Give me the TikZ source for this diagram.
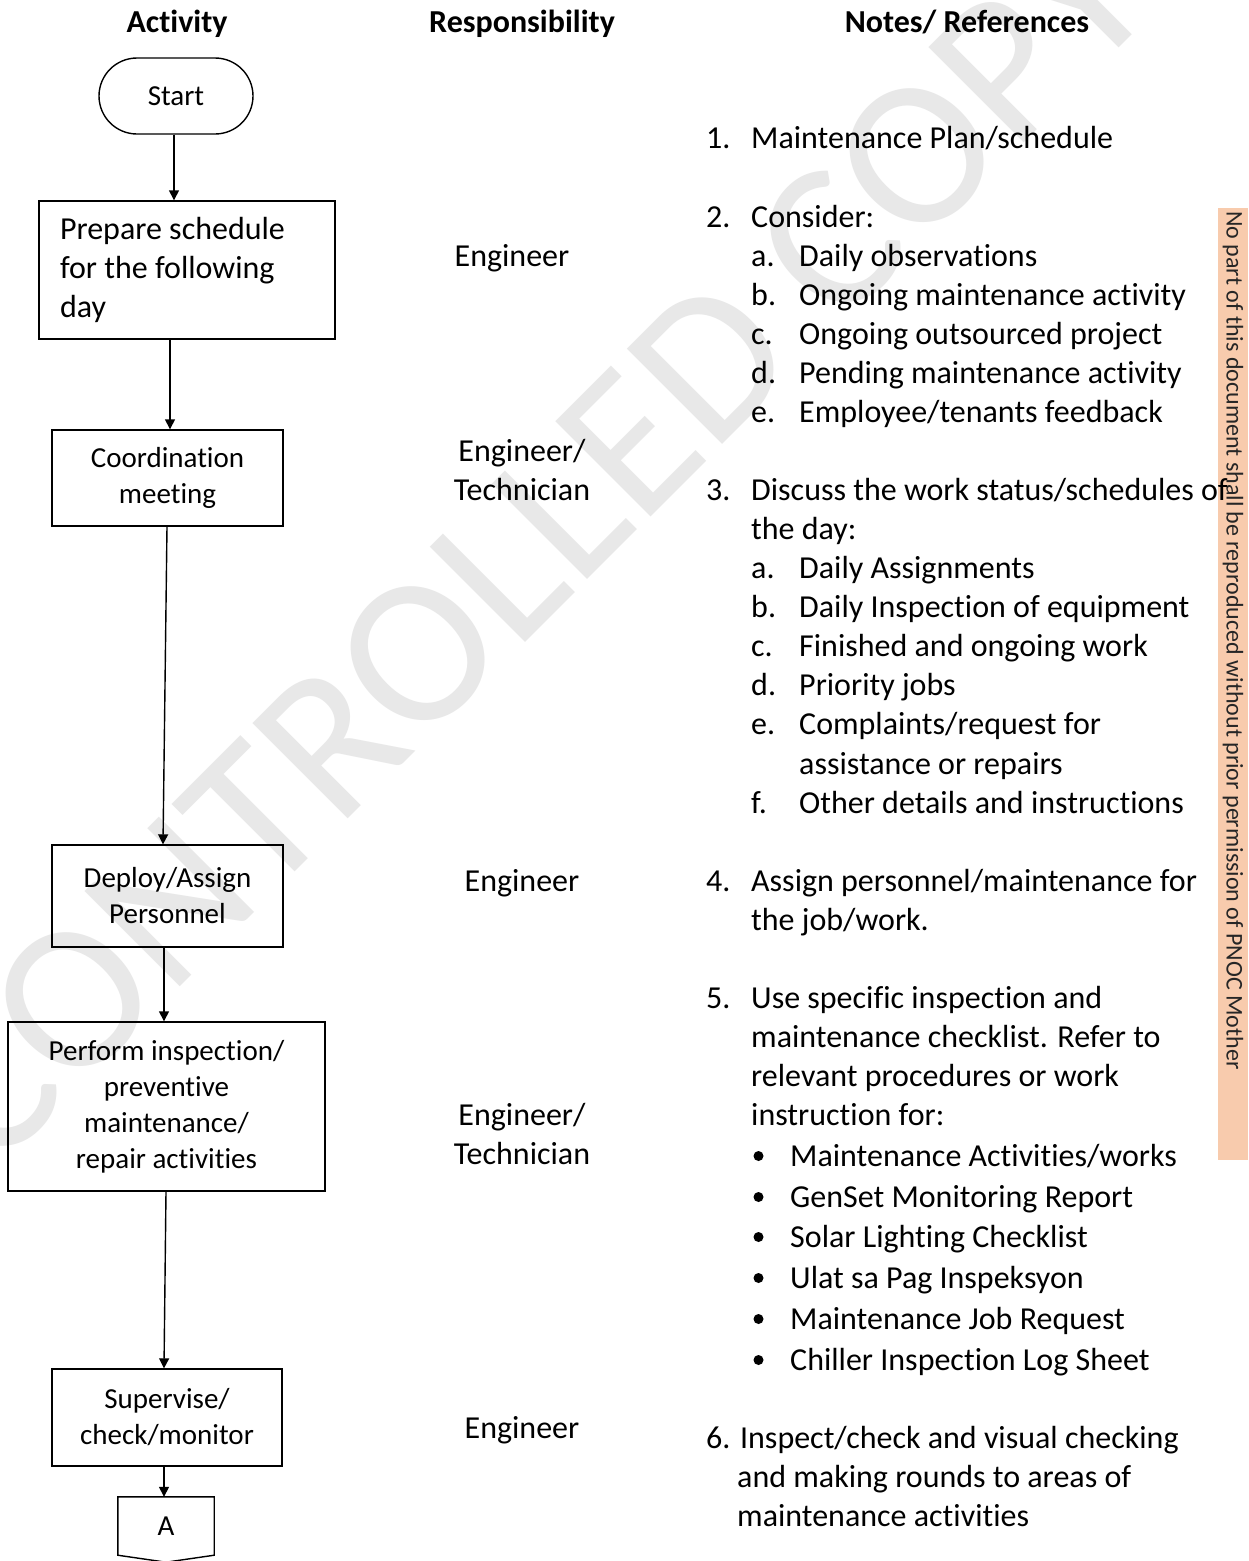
\documentclass[tikz,border=0pt]{standalone}
\usepackage{fontspec}
\setmainfont{Carlito}[Ligatures={TeX,NoCommon}]
\usetikzlibrary{arrows.meta,calc}
\definecolor{stripfill}{HTML}{F8CBAD}
\begin{document}
\begin{tikzpicture}[x=1pt,y=-1pt,
  box/.style={draw=black, line width=1.4pt, inner sep=0pt, align=center,
    font=\fontsize{29}{36}\selectfont},
  arr/.style={line width=1.4pt, -{Triangle[length=10pt,width=10pt]}},
  head/.style={font=\fontsize{32}{39}\selectfont\bfseries, anchor=base, inner sep=0pt},
  resp/.style={font=\fontsize{32}{39}\selectfont, anchor=base, inner sep=0pt},
  note/.style={font=\fontsize{32}{39}\selectfont, anchor=base west, inner sep=0pt},
  dot/.style={circle, fill=black, inner sep=0pt, minimum size=10pt},
]
\fill[white] (0,0) rectangle (1248,1561);
\useasboundingbox (0,0) rectangle (1248,1561);

% watermark
\node[text=black!9, rotate=45, inner sep=0pt,
  font=\fontsize{210}{250}\selectfont] (wm) at (530,542) {CONTROLLED COPY};

% side strip
\fill[stripfill] (1218,208) rectangle (1248,1160);
\node[rotate=-90, anchor=west, inner sep=0pt, text=black!85,
  font=\fontsize{24}{28}\selectfont] (side) at (1233,211)
  {No part of this document shall be reproduced without prior permission of PNOC Mother};

% column headings
\node[head] (hact) at (177,32) {Activity};
\node[head] (hresp) at (522,32) {Responsibility};
\node[head] (hnote) at (967,32) {Notes/ References};

% flow chart
\node[box, rounded corners=38pt, minimum width=154pt, minimum height=76pt] (start) at (176,96) {Start};
\node[box, minimum width=296pt, minimum height=138pt, align=flush left, text width=254pt,
  font=\fontsize{32}{39}\selectfont] (b1) at (187,270) {Prepare schedule\\for the following\\day};
\node[box, minimum width=231pt, minimum height=96pt] (b2) at (167.5,478) {Coordination\\meeting};
\node[box, minimum width=231pt, minimum height=102pt] (b3) at (167.5,896) {Deploy/Assign\\Personnel};
\node[box, minimum width=317pt, minimum height=169pt] (b4) at (166.5,1106.5)
  {Perform inspection/\\preventive\\maintenance/\\repair activities};
\node[box, minimum width=230pt, minimum height=97pt] (b5) at (167,1417.5) {Supervise/\\check/monitor};
\node[inner sep=0pt, minimum width=96pt, minimum height=58pt,
  font=\fontsize{29}{36}\selectfont] (conA) at (166,1526) {A};
\draw[line width=1.4pt] (conA.north west) -- (conA.north east) -- (conA.south east)
  -- ($(conA.south)+(0,7)$) -- (conA.south west) -- cycle;

\draw[arr] ([xshift=-2pt]start.south) -- ([xshift=-2pt]start.south |- b1.north);
\draw[arr] ([xshift=2.5pt]b2.north |- b1.south) -- ([xshift=2.5pt]b2.north);
\draw[arr] ([xshift=-0.5pt]b2.south) -- ([xshift=-4.5pt]b3.north);
\draw[arr] ([xshift=-3.5pt]b3.south) -- ([xshift=-3.5pt]b3.south |- b4.north);
\draw[arr] ([xshift=-0.5pt]b4.south) -- ([xshift=-3pt]b5.north);
\draw[arr] ([xshift=-3pt]b5.south) -- ([xshift=-3pt]b5.south |- conA.north);

% responsibility column
\node[resp] (r1) at (512,266) {Engineer};
\node[resp] (r2a) at (522,461) {Engineer/};
\node[resp] (r2b) at (522,500) {Technician};
\node[resp] (r3) at (522,891) {Engineer};
\node[resp] (r4a) at (522,1125) {Engineer/};
\node[resp] (r4b) at (522,1164) {Technician};
\node[resp] (r5) at (522,1438) {Engineer};

% notes column
\node[note] (n1k) at (706,148) {1.};
\node[note] (n1) at (751,148) {Maintenance Plan/schedule};
\node[note] (n2k) at (706,227) {2.};
\node[note] (n2) at (751,227) {Consider:};
\node[note] (n2ak) at (751,266) {a.};
\node[note] (n2a) at (799,266) {Daily observations};
\node[note] (n2bk) at (751,305) {b.};
\node[note] (n2b) at (799,305) {Ongoing maintenance activity};
\node[note] (n2ck) at (751,344) {c.};
\node[note] (n2c) at (799,344) {Ongoing outsourced project};
\node[note] (n2dk) at (751,383) {d.};
\node[note] (n2d) at (799,383) {Pending maintenance activity};
\node[note] (n2ek) at (751,422) {e.};
\node[note] (n2e) at (799,422) {Employee/tenants feedback};

\node[note] (n3k) at (706,500) {3.};
\node[note] (n3) at (751,500) {Discuss the work status/schedules of};
\node[note] (n3x) at (751,539) {the day:};
\node[note] (n3ak) at (751,578) {a.};
\node[note] (n3a) at (799,578) {Daily Assignments};
\node[note] (n3bk) at (751,617) {b.};
\node[note] (n3b) at (799,617) {Daily Inspection of equipment};
\node[note] (n3ck) at (751,656) {c.};
\node[note] (n3c) at (799,656) {Finished and ongoing work};
\node[note] (n3dk) at (751,695) {d.};
\node[note] (n3d) at (799,695) {Priority jobs};
\node[note] (n3ek) at (751,734) {e.};
\node[note] (n3e) at (799,734) {Complaints/request for};
\node[note] (n3ex) at (799,774) {assistance or repairs};
\node[note] (n3fk) at (751,813) {f.};
\node[note] (n3f) at (799,813) {Other details and instructions};

\node[note] (n4k) at (706,891) {4.};
\node[note] (n4) at (751,891) {Assign personnel/maintenance for};
\node[note] (n4x) at (751,930) {the job/work.};

\node[note] (n5k) at (706,1008) {5.};
\node[note] (n5) at (751,1008) {Use specific inspection and};
\node[note] (n5x) at (751,1047) {maintenance checklist. Refer to};
\node[note] (n5y) at (751,1086) {relevant procedures or work};
\node[note] (n5z) at (751,1125) {instruction for:};

\node[dot] (d1) at (758.5,1156) {};
\node[note] (l1) at (790,1166) {Maintenance Activities/works};
\node[dot] (d2) at (758.5,1197) {};
\node[note] (l2) at (790,1207) {GenSet Monitoring Report};
\node[dot] (d3) at (758.5,1237) {};
\node[note] (l3) at (790,1247) {Solar Lighting Checklist};
\node[dot] (d4) at (758.5,1278) {};
\node[note] (l4) at (790,1288) {Ulat sa Pag Inspeksyon};
\node[dot] (d5) at (758.5,1319) {};
\node[note] (l5) at (790,1329) {Maintenance Job Request};
\node[dot] (d6) at (758.5,1360) {};
\node[note] (l6) at (790,1370) {Chiller Inspection Log Sheet};

\node[note] (n6) at (706,1448) {6. Inspect/check and visual checking};
\node[note] (n6x) at (737,1487) {and making rounds to areas of};
\node[note] (n6y) at (737,1526) {maintenance activities};
\end{tikzpicture}
\end{document}
